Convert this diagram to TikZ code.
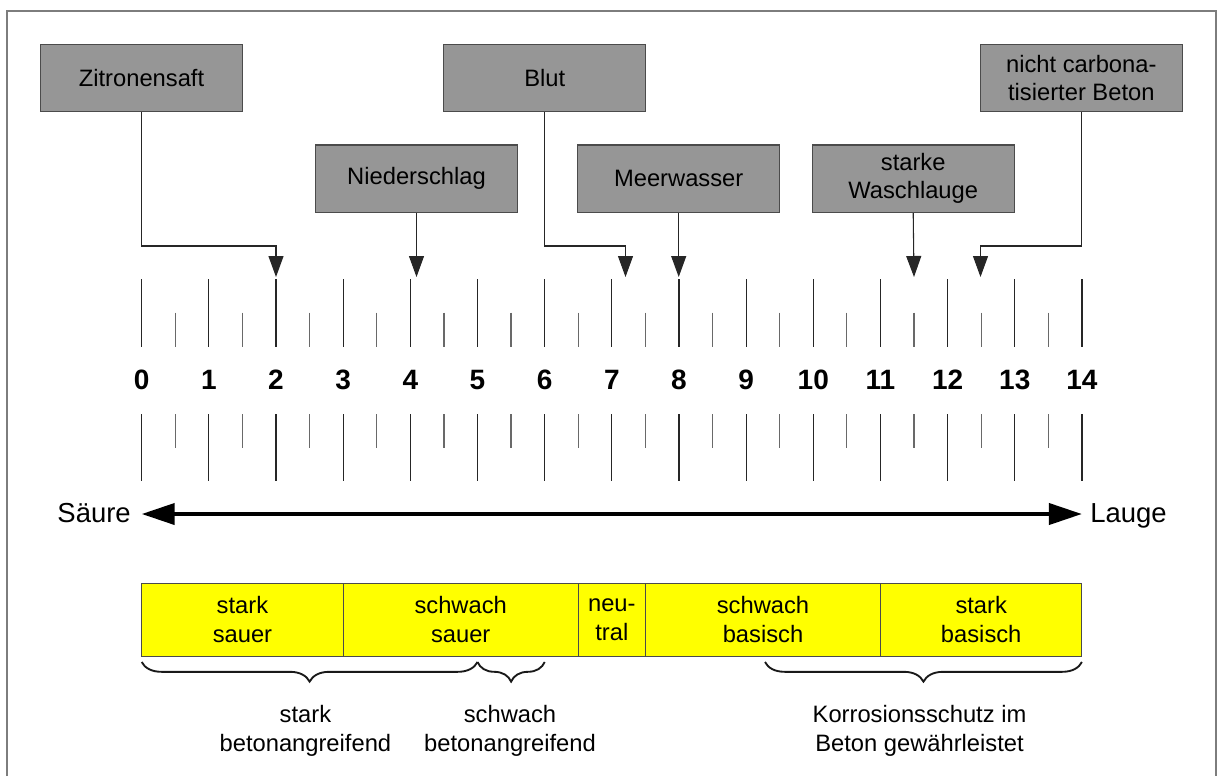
\documentclass[tikz,border=0pt]{standalone}
\usepackage{fontspec}
\setmainfont{Liberation Sans}
\usetikzlibrary{arrows.meta,decorations.pathreplacing}
\definecolor{boxgray}{RGB}{150,150,150}
\definecolor{boxline}{RGB}{75,75,75}
\definecolor{framegray}{RGB}{125,125,125}
\definecolor{tickgray}{RGB}{105,105,105}
\definecolor{phyellow}{RGB}{255,255,0}

\begin{document}
\begin{tikzpicture}[x=0.75pt,y=-0.75pt,
  every node/.style={inner sep=0pt},
  txt/.style={font=\fontsize{17.8}{21}\selectfont, align=center, text=black},
  srcbox/.style={txt, draw=boxline, fill=boxgray, line width=0.9pt,
                 minimum width=151.5pt, minimum height=50.6pt},
  conn/.style={draw=black!85, line width=0.8pt,
               -{Triangle[length=15.75pt,width=11.25pt]}},
  longtick/.style={draw=black!85, line width=0.9pt},
  shorttick/.style={draw=tickgray, line width=0.9pt},
  numlabel/.style={font=\bfseries\fontsize{21}{24}\selectfont},
  sidetxt/.style={font=\fontsize{20.6}{24}\selectfont},
  bigarrow/.style={line width=3pt,
                   {Triangle[length=24.75pt,width=15.75pt]}-{Triangle[length=24.75pt,width=15.75pt]}},
  seg/.style={font=\fontsize{17.8}{22}\selectfont, align=center, draw=boxline,
              fill=phyellow, line width=0.8pt, minimum height=54.4pt},
  bracestyle/.style={draw=black!90, line width=1.4pt, decorate,
                     decoration={brace, mirror, amplitude=14.7pt}},
  bracetxt/.style={font=\fontsize{17.8}{22}\selectfont, align=center},
  frameline/.style={draw=framegray, line width=1.5pt}
]
\useasboundingbox (0,0) rectangle (1219,776);

% outer frame
\draw[frameline] (7,776) -- (7,11) -- (1216,11) -- (1216,776);

% pH scale ticks and numbers
\foreach \i in {0,...,14} {
  \draw[longtick] ({141.7+67.16*\i},279.3) -- ++(0,67.4);
  \draw[longtick] ({141.7+67.16*\i},414) -- ++(0,67);
  \node[numlabel] (n\i) at ({141.7+67.16*\i},380) {\i};
}
\foreach \i in {0,...,13} {
  \draw[shorttick] ({175.28+67.16*\i},312.7) -- ++(0,34);
  \draw[shorttick] ({175.28+67.16*\i},414) -- ++(0,33.7);
}

% substances
\node[srcbox] (zit)   at (141.5,78)    {Zitronensaft};
\node[srcbox] (nied)  at (416.5,178.7) {Niederschlag};
\node[srcbox] (blut)  at (544.7,78)    {Blut};
\node[srcbox] (meer)  at (678.7,178.7) {Meerwasser};
\node[srcbox] (wasch) at (913.2,178.7) {starke\\Waschlauge};
\node[srcbox] (beton) at (1081.3,78)   {nicht carbona-\\tisierter Beton};

% pointers onto the scale
\coordinate (kz) at (276.0,246);  \coordinate (tz) at (276.0,277);
\coordinate (tn) at (416.5,277);
\coordinate (kb) at (625.5,246);  \coordinate (tb) at (625.5,277);
\coordinate (tm) at (678.7,277);
\coordinate (tw) at (914.0,277);
\coordinate (kc) at (980.5,246);  \coordinate (tc) at (980.5,277);

\draw[conn] (zit.south) |- (kz) -- (tz);
\draw[conn] (nied.south) -- (tn);
\draw[conn] (blut.south) |- (kb) -- (tb);
\draw[conn] (meer.south) -- (tm);
\draw[conn] (wasch.south) -- (tw);
\draw[conn] (beton.south) |- (kc) -- (tc);

% acid / base arrow
\node[sidetxt, anchor=base east] (saeure) at (131,522.7) {Säure};
\node[sidetxt, anchor=base west] (lauge) at (1090,522.7) {Lauge};
\coordinate (aL) at (141.7,514);
\coordinate (aR) at (1081.9,514);
\draw[bigarrow] (aL) -- (aR);

% classification bar
\node[seg, minimum width=151.1pt] (s1) at (242.45,619.75) {stark\\sauer};
\node[seg, minimum width=176.3pt] (s2) at (460.7,619.75)  {schwach\\sauer};
\node[seg, minimum width=50.4pt]  (s3) at (611.8,619.75)  {neu-\\tral};
\node[seg, minimum width=176.3pt] (s4) at (763.0,619.75)  {schwach\\basisch};
\node[seg, minimum width=151.1pt] (s5) at (981.2,619.75)  {stark\\basisch};

% braces and their meaning
\draw[bracestyle] (141.7,662) -- (477.5,662);
\draw[bracestyle] (477.5,662) -- (544.7,662);
\draw[bracestyle] (765.0,662) -- (1081.9,662);

\node[bracetxt] (b1) at (305.4,731) {stark\\betonangreifend};
\node[bracetxt] (b2) at (510.0,731) {schwach\\betonangreifend};
\node[bracetxt] (b3) at (919.5,731) {Korrosionsschutz im\\Beton gewährleistet};
\end{tikzpicture}
\end{document}
